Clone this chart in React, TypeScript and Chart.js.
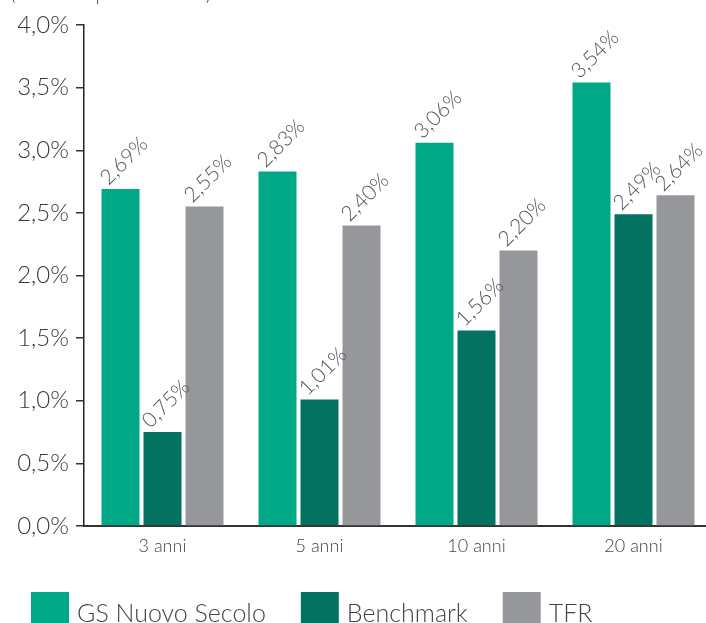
import React, { useEffect, useRef } from "react";
import { Chart, registerables } from "chart.js";

Chart.register(...registerables);

const categories = ["3 anni", "5 anni", "10 anni", "20 anni"];
const seriesNames = ["GS Nuovo Secolo", "Benchmark", "TFR"];
const gsValues = [2.69, 2.83, 3.06, 3.54];
const benchmarkValues = [0.75, 1.01, 1.56, 2.49];
const tfrValues = [2.55, 2.4, 2.2, 2.64];
const seriesColors = ["#00A886", "#037260", "#96979B"];
const yTicks = [0, 0.5, 1, 1.5, 2, 2.5, 3, 3.5, 4];
const subtitle = "(valori in percentuale)";

const FONT = "Lato, 'Noto Sans', sans-serif";

const fmt = (v: number, d: number) => v.toFixed(d).replace(".", ",") + "%";

const extrasPlugin = {
  id: "extras",
  afterDatasetsDraw(chart: any) {
    const ctx = chart.ctx;
    ctx.save();
    ctx.font = `300 21px ${FONT}`;
    ctx.fillStyle = "#555";
    ctx.textAlign = "left";
    ctx.textBaseline = "alphabetic";
    chart.data.datasets.forEach((ds: any, di: number) => {
      const meta = chart.getDatasetMeta(di);
      meta.data.forEach((bar: any, i: number) => {
        const { x, y, width } = bar.getProps(["x", "y", "width"], true);
        ctx.save();
        ctx.translate(x - width / 2 + 7, y - 3);
        ctx.rotate(-Math.PI / 4);
        ctx.fillText(fmt(ds.data[i], 2), 0, 0);
        ctx.restore();
      });
    });
    ctx.restore();
  },
  afterDraw(chart: any) {
    const ctx = chart.ctx;
    ctx.save();
    ctx.font = `300 22px ${FONT}`;
    ctx.fillStyle = "#555";
    ctx.textAlign = "left";
    ctx.textBaseline = "alphabetic";
    ctx.fillText(subtitle, 10, 0);
    ctx.font = `300 25px ${FONT}`;
    let x = 31;
    chart.data.datasets.forEach((ds: any) => {
      ctx.fillStyle = ds.backgroundColor;
      ctx.fillRect(x, 592, 38, 31);
      x += 38 + 8;
      ctx.fillStyle = "#444";
      ctx.fillText(ds.label, x, 622);
      x += ctx.measureText(ds.label).width + 35;
    });
    ctx.restore();
  },
};

export default function App() {
  const ref = useRef<HTMLCanvasElement | null>(null);
  useEffect(() => {
    if (!ref.current) return;
    const chart = new Chart(ref.current, {
      type: "bar",
      data: {
        labels: categories,
        datasets: [gsValues, benchmarkValues, tfrValues].map((d, i) => ({
          label: seriesNames[i],
          data: d,
          backgroundColor: seriesColors[i],
          borderWidth: 0,
          categoryPercentage: 0.8025,
          barPercentage: 0.905,
        })),
      },
      options: {
        animation: false,
        responsive: false,
        layout: { padding: { top: 25, left: 0, right: 0, bottom: 0 } },
        plugins: { legend: { display: false }, tooltip: { enabled: false } },
        scales: {
          x: {
            grid: { display: false, drawTicks: false },
            border: { display: true, color: "#333", width: 2 },
            ticks: {
              color: "#444",
              font: { family: FONT, size: 18, weight: "300" as any },
              padding: 9,
            },
            afterFit(scale: any) {
              scale.height = 97;
            },
          },
          y: {
            min: 0,
            max: 4,
            afterBuildTicks(scale: any) {
              scale.ticks = yTicks.map((v) => ({ value: v }));
            },
            grid: {
              drawOnChartArea: false,
              drawTicks: true,
              tickLength: 8,
              color: "#333",
              lineWidth: 1.5,
            },
            border: { display: true, color: "#222", width: 1.5 },
            ticks: {
              color: "#3a3a3a",
              font: { family: FONT, size: 24, weight: "300" as any },
              padding: 7,
              callback: (v: any) => fmt(Number(v), 1),
            },
            afterFit(scale: any) {
              scale.width = 84;
            },
          },
        },
      },
      plugins: [extrasPlugin],
    });
    return () => chart.destroy();
  }, []);
  return (
    <div
      style={{
        position: "fixed",
        left: 0,
        top: 0,
        width: 706,
        height: 623,
        overflow: "hidden",
        background: "#fff",
      }}
    >
      <canvas ref={ref} width={712} height={623} style={{ width: 712, height: 623, display: "block" }} />
    </div>
  );
}
